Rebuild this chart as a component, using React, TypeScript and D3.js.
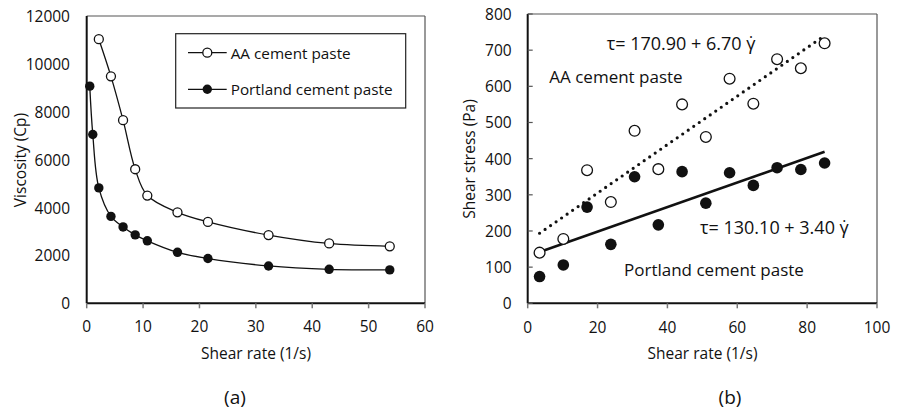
import React from "react";
import * as d3 from "d3";

// ---------- Data (a) Viscosity vs shear rate ----------
const shearA = [2.15, 4.3, 6.45, 8.6, 10.75, 16.1, 21.5, 32.25, 43, 53.75];
const viscAA = [11030, 9480, 7650, 5600, 4500, 3800, 3400, 2850, 2500, 2380];
const shearP = [0.54, 1.08, 2.15, 4.3, 6.45, 8.6, 10.75, 16.1, 21.5, 32.25, 43, 53.75];
const viscPortland = [9070, 7050, 4820, 3630, 3190, 2860, 2610, 2130, 1870, 1560, 1420, 1395];
const xTicksA = [0, 10, 20, 30, 40, 50, 60];
const yTicksA = [0, 2000, 4000, 6000, 8000, 10000, 12000];

// ---------- Data (b) Shear stress vs shear rate ----------
const shearB = [3.4, 10.2, 17, 23.8, 30.6, 37.4, 44.2, 51, 57.8, 64.6, 71.4, 78.2, 85];
const stressAA = [140, 178, 368, 280, 477, 371, 550, 460, 621, 552, 675, 650, 719];
const stressPortland = [74, 106, 266, 163, 350, 217, 364, 277, 361, 326, 375, 370, 388];
const fitAA = { a: 170.9, b: 6.7 };
const fitPortland = { a: 130.1, b: 3.4 };
const xTicksB = [0, 20, 40, 60, 80, 100];
const yTicksB = [0, 100, 200, 300, 400, 500, 600, 700, 800];

const FONT = "'Open Sans', sans-serif";
const TXT = "#111";

export default function App() {
  // panel (a)
  const ax = d3.scaleLinear().domain([0, 60]).range([86.7, 425]);
  const ay = d3.scaleLinear().domain([0, 12000]).range([303.3, 16]);
  // panel (b)
  const bx = d3.scaleLinear().domain([0, 100]).range([527.7, 877]);
  const by = d3.scaleLinear().domain([0, 800]).range([303.3, 14]);

  const lineA = d3
    .line<[number, number]>()
    .x((d) => ax(d[0]))
    .y((d) => ay(d[1]))
    .curve(d3.curveCatmullRom.alpha(0.5));

  const aaPts: [number, number][] = shearA.map((s, i) => [s, viscAA[i]]);
  const pPts: [number, number][] = shearP.map((s, i) => [s, viscPortland[i]]);

  const x0 = shearB[0];
  const x1 = shearB[shearB.length - 1];

  return (
    <svg
      width={897}
      height={411}
      style={{ position: "absolute", left: 0, top: 0, background: "#fff" }}
      fontFamily={FONT}
    >
      {/* ================= Panel (a) ================= */}
      <g>
        <line x1={ax(0)} x2={ax(60)} y1={ay(12000)} y2={ay(12000)} stroke="#555" strokeWidth={1.2} />
        <line x1={ax(60)} x2={ax(60)} y1={ay(12000)} y2={ay(0)} stroke="#555" strokeWidth={1.2} />
        <line x1={ax(0)} x2={ax(60)} y1={ay(0)} y2={ay(0)} stroke="#111" strokeWidth={2} />
        <line x1={ax(0)} x2={ax(0)} y1={ay(12000)} y2={ay(0)} stroke="#111" strokeWidth={2} />
        {xTicksA.map((t) => (
          <g key={"axt" + t}>
            <line x1={ax(t)} x2={ax(t)} y1={ay(0)} y2={ay(0) + 5} stroke="#777" strokeWidth={1.5} />
            <text x={ax(t)} y={326} textAnchor="middle" dominantBaseline="central" fontSize={15.5} fill={TXT}>
              {t}
            </text>
          </g>
        ))}
        {yTicksA.map((t) => (
          <text key={"ayt" + t} x={70} y={ay(t)} textAnchor="end" dominantBaseline="central" fontSize={15.5} fill={TXT}>
            {t}
          </text>
        ))}
        <text x={256} y={353} textAnchor="middle" dominantBaseline="central" fontSize={15.5} fill={TXT}>
          Shear rate (1/s)
        </text>
        <text
          transform={`translate(20,160) rotate(-90)`}
          textAnchor="middle"
          dominantBaseline="central"
          fontSize={15.5}
          fill={TXT}
        >
          Viscosity (Cp)
        </text>
        <text x={235} y={397} textAnchor="middle" dominantBaseline="central" fontSize={19} fill={TXT}>
          (a)
        </text>

        <path d={lineA(aaPts) || ""} fill="none" stroke="#111" strokeWidth={1.3} />
        <path d={lineA(pPts) || ""} fill="none" stroke="#111" strokeWidth={1.3} />
        {aaPts.map((d, i) => (
          <circle key={"aa" + i} cx={ax(d[0])} cy={ay(d[1])} r={4.5} fill="#fff" stroke="#111" strokeWidth={1.3} />
        ))}
        {pPts.map((d, i) => (
          <circle key={"pp" + i} cx={ax(d[0])} cy={ay(d[1])} r={4.7} fill="#111" />
        ))}

        {/* legend */}
        <rect x={175.7} y={33.7} width={230} height={74.3} fill="#fff" stroke="#222" strokeWidth={1.2} />
        <line x1={188} x2={226.7} y1={52.7} y2={52.7} stroke="#111" strokeWidth={1.3} />
        <circle cx={207.3} cy={52.7} r={4.5} fill="#fff" stroke="#111" strokeWidth={1.3} />
        <text x={230.7} y={52.7} dominantBaseline="central" fontSize={15.3} fill={TXT}>
          AA cement paste
        </text>
        <line x1={188} x2={226.7} y1={89.3} y2={89.3} stroke="#111" strokeWidth={1.3} />
        <circle cx={207.3} cy={89.3} r={4.7} fill="#111" />
        <text x={230.7} y={89.3} dominantBaseline="central" fontSize={15.3} fill={TXT}>
          Portland cement paste
        </text>
      </g>

      {/* ================= Panel (b) ================= */}
      <g>
        <line x1={bx(0)} x2={bx(100)} y1={by(800)} y2={by(800)} stroke="#555" strokeWidth={1.2} />
        <line x1={bx(100)} x2={bx(100)} y1={by(800)} y2={by(0)} stroke="#555" strokeWidth={1.2} />
        <line x1={bx(0)} x2={bx(100)} y1={by(0)} y2={by(0)} stroke="#111" strokeWidth={2} />
        <line x1={bx(0)} x2={bx(0)} y1={by(800)} y2={by(0)} stroke="#111" strokeWidth={2} />
        {xTicksB.map((t) => (
          <g key={"bxt" + t}>
            <line x1={bx(t)} x2={bx(t)} y1={by(0)} y2={by(0) + 5} stroke="#777" strokeWidth={1.5} />
            <text x={bx(t)} y={326.7} textAnchor="middle" dominantBaseline="central" fontSize={15.5} fill={TXT}>
              {t}
            </text>
          </g>
        ))}
        {yTicksB.map((t) => (
          <g key={"byt" + t}>
            <line x1={bx(0)} x2={bx(0) + 5} y1={by(t)} y2={by(t)} stroke="#555" strokeWidth={1.2} />
            <text x={511.7} y={by(t)} textAnchor="end" dominantBaseline="central" fontSize={15.5} fill={TXT}>
              {t}
            </text>
          </g>
        ))}
        <text x={702.5} y={353} textAnchor="middle" dominantBaseline="central" fontSize={15.5} fill={TXT}>
          Shear rate (1/s)
        </text>
        <text
          transform={`translate(469,159) rotate(-90)`}
          textAnchor="middle"
          dominantBaseline="central"
          fontSize={15.5}
          fill={TXT}
        >
          Shear stress (Pa)
        </text>
        <text x={730} y={397} textAnchor="middle" dominantBaseline="central" fontSize={19} fill={TXT}>
          (b)
        </text>

        <line
          x1={bx(x0)}
          y1={by(fitAA.a + fitAA.b * x0)}
          x2={bx(x1)}
          y2={by(fitAA.a + fitAA.b * x1)}
          stroke="#111"
          strokeWidth={3.2}
          strokeDasharray="0 6.7"
          strokeLinecap="round"
        />
        <line
          x1={bx(x0)}
          y1={by(fitPortland.a + fitPortland.b * x0)}
          x2={bx(x1)}
          y2={by(fitPortland.a + fitPortland.b * x1)}
          stroke="#111"
          strokeWidth={2.6}
        />
        {shearB.map((s, i) => (
          <circle key={"bA" + i} cx={bx(s)} cy={by(stressAA[i])} r={5.4} fill="#fff" stroke="#111" strokeWidth={1.3} />
        ))}
        {shearB.map((s, i) => (
          <circle key={"bP" + i} cx={bx(s)} cy={by(stressPortland[i])} r={5.8} fill="#111" />
        ))}

        <text x={606.7} y={42.7} dominantBaseline="central" fontSize={18} fill={TXT}>
          τ= 170.90 + 6.70 γ̇
        </text>
        <text x={549.3} y={76} dominantBaseline="central" fontSize={17} fill={TXT}>
          AA cement paste
        </text>
        <text x={700} y={226.7} dominantBaseline="central" fontSize={18} fill={TXT}>
          τ= 130.10 + 3.40 γ̇
        </text>
        <text x={624} y={269} dominantBaseline="central" fontSize={17} fill={TXT}>
          Portland cement paste
        </text>
      </g>
    </svg>
  );
}
